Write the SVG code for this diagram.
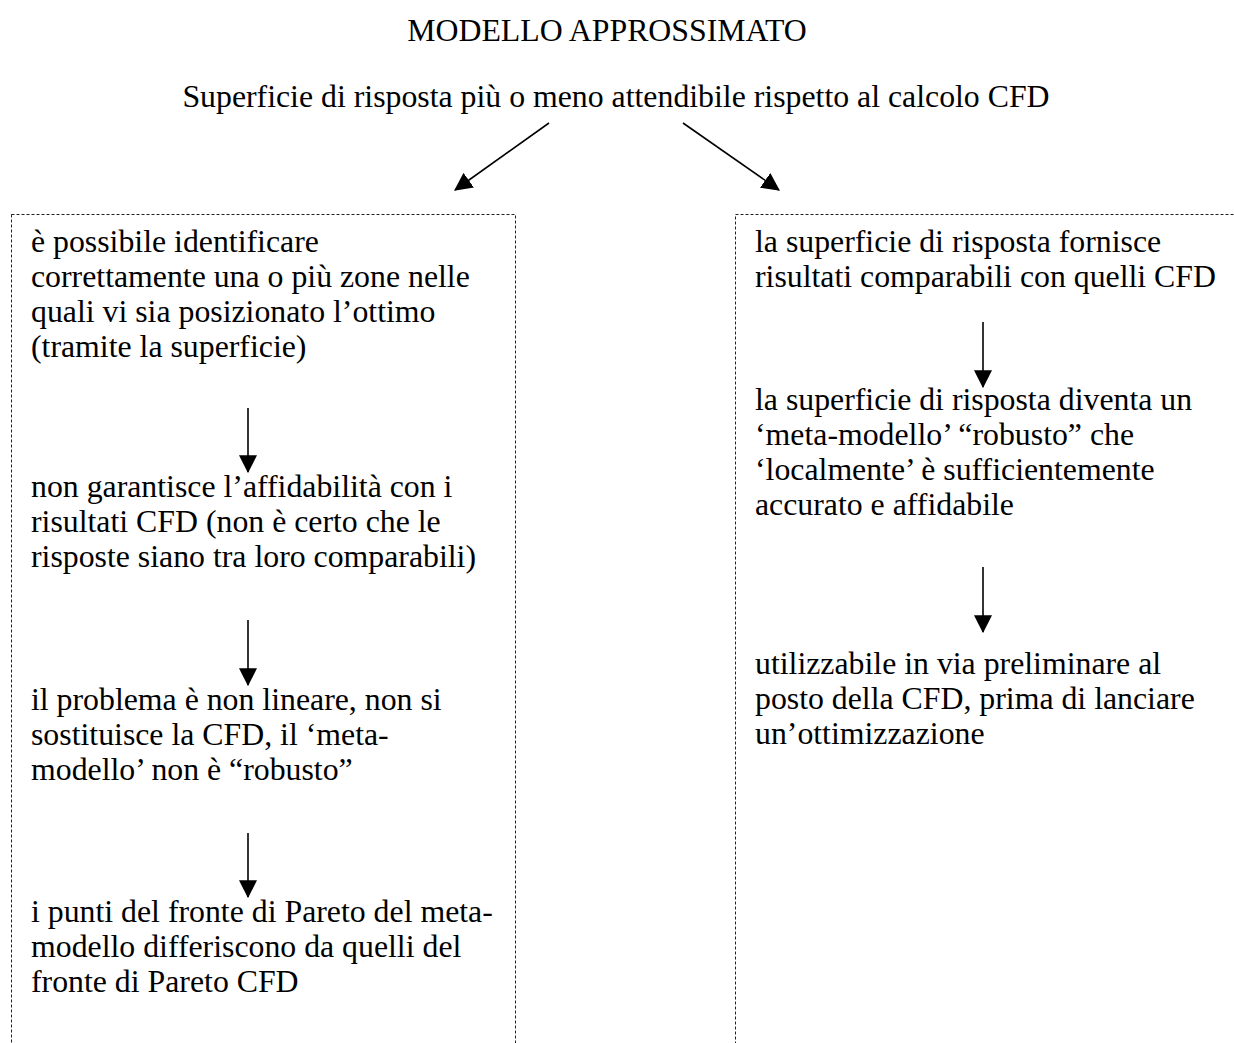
<svg xmlns="http://www.w3.org/2000/svg" width="1234" height="1043" viewBox="0 0 1234 1043">
<defs>
<marker id="ah" markerUnits="userSpaceOnUse" markerWidth="18" markerHeight="18" viewBox="0 0 16 16" refX="15" refY="8" orient="auto">
<path d="M0,0 L16,8 L0,16 Z" fill="#000"/>
</marker>
<style>
text{font-family:"Liberation Serif","Times New Roman",serif;font-size:31.8px;fill:#000}
.c{text-anchor:middle}
.box{fill:none;stroke:#222;stroke-width:1;stroke-dasharray:3,2}
.ar{stroke:#000;stroke-width:1.6;fill:none;marker-end:url(#ah)}
</style>
</defs>
<rect width="1234" height="1043" fill="#fff"/>
<g id="title"><text class="c" x="607" y="41">MODELLO APPROSSIMATO</text></g>
<g id="subtitle"><text class="c" x="616" y="107">Superficie di risposta più o meno attendibile rispetto al calcolo CFD</text></g>
<g id="left-box">
<rect class="box" x="11.5" y="214.5" width="504" height="840"/>
<text x="31" y="252">è possibile identificare</text>
<text x="31" y="287">correttamente una o più zone nelle</text>
<text x="31" y="322">quali vi sia posizionato l’ottimo</text>
<text x="31" y="357">(tramite la superficie)</text>
<text x="31" y="497">non garantisce l’affidabilità con i</text>
<text x="31" y="532">risultati CFD (non è certo che le</text>
<text x="31" y="567">risposte siano tra loro comparabili)</text>
<text x="31" y="710">il problema è non lineare, non si</text>
<text x="31" y="745">sostituisce la CFD, il ‘meta-</text>
<text x="31" y="780">modello’ non è “robusto”</text>
<text x="31" y="922">i punti del fronte di Pareto del meta-</text>
<text x="31" y="957">modello differiscono da quelli del</text>
<text x="31" y="992">fronte di Pareto CFD</text>
</g>
<g id="right-box">
<rect class="box" x="735.5" y="214.5" width="520" height="840"/>
<text x="755" y="252">la superficie di risposta fornisce</text>
<text x="755" y="287">risultati comparabili con quelli CFD</text>
<text x="755" y="410">la superficie di risposta diventa un</text>
<text x="755" y="445">‘meta-modello’ “robusto” che</text>
<text x="755" y="480">‘localmente’ è sufficientemente</text>
<text x="755" y="515">accurato e affidabile</text>
<text x="755" y="674">utilizzabile in via preliminare al</text>
<text x="755" y="709">posto della CFD, prima di lanciare</text>
<text x="755" y="744">un’ottimizzazione</text>
</g>
<g id="connectors">
<line class="ar" x1="549" y1="123" x2="455" y2="190"/>
<line class="ar" x1="683" y1="123" x2="779" y2="190"/>
<line class="ar" x1="248" y1="408" x2="248" y2="472"/>
<line class="ar" x1="248" y1="620" x2="248" y2="685"/>
<line class="ar" x1="248" y1="833" x2="248" y2="897"/>
<line class="ar" x1="983" y1="322" x2="983" y2="387"/>
<line class="ar" x1="983" y1="567" x2="983" y2="632"/>
</g>
</svg>
